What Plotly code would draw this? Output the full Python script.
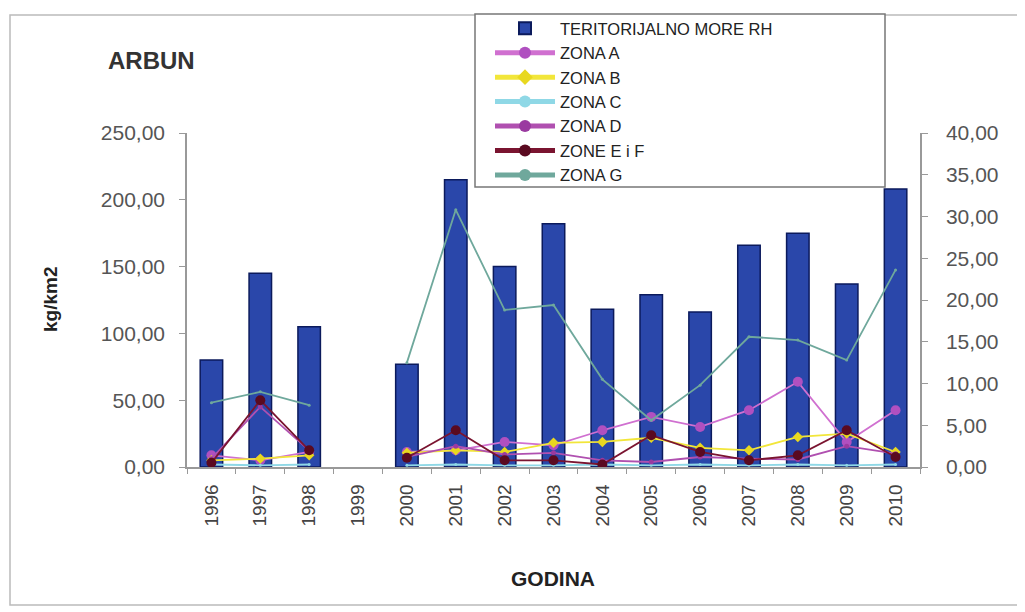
import plotly.graph_objects as go

years = ["1996", "1997", "1998", "1999", "2000", "2001", "2002", "2003",
         "2004", "2005", "2006", "2007", "2008", "2009", "2010"]
teritorijalno_more = [80, 145, 105, None, 77, 215, 150, 182, 118, 129, 116, 166, 175, 137, 208]
zona_a = [1.4, 0.8, 1.8, None, 1.8, 2.0, 3.0, 2.6, 4.4, 6.0, 4.8, 6.8, 10.2, 3.0, 6.8]
zona_b = [0.8, 1.0, 1.4, None, 1.7, 2.0, 1.8, 2.9, 3.0, 3.5, 2.3, 2.0, 3.6, 4.0, 1.8]
zona_c = [0.3, 0.2, 0.3, None, 0.2, 0.3, 0.2, 0.2, 0.3, 0.2, 0.3, 0.2, 0.3, 0.2, 0.3]
zona_d = [1.0, 7.2, 2.0, None, 1.2, 2.5, 1.5, 1.7, 0.8, 0.6, 1.2, 1.0, 0.9, 2.5, 1.6]
zone_e_f = [0.5, 8.0, 2.0, None, 1.1, 4.4, 0.8, 0.8, 0.3, 3.8, 1.8, 0.8, 1.4, 4.4, 1.2]
zona_g = [7.7, 9.0, 7.4, None, 12.5, 30.8, 18.8, 19.4, 10.5, 5.6, 9.8, 15.6, 15.2, 12.8, 23.6]

FONT = "Liberation Sans, Arial, sans-serif"

fig = go.Figure()
fig.add_trace(go.Bar(
    x=years, y=teritorijalno_more, name="TERITORIJALNO MORE RH",
    marker=dict(color="#2a47aa", line=dict(color="#0b1a5c", width=1.5)),
    width=0.46, yaxis="y"))

line_specs = [
    ("ZONA A", zona_a, "#d070d0", "#b050c0", 10, "circle"),
    ("ZONA B", zona_b, "#f2e63a", "#e8d820", 8, "diamond"),
    ("ZONA C", zona_c, "#8fd8e6", "#8fd8e6", 3, "circle"),
    ("ZONA D", zona_d, "#b050b0", "#9a3aa0", 5, "circle"),
    ("ZONE E i F", zone_e_f, "#7a1430", "#5a0a20", 10, "circle"),
    ("ZONA G", zona_g, "#6fa89c", "#6fa89c", 3, "circle"),
]
for name, vals, lc, mc, ms, sym in line_specs:
    fig.add_trace(go.Scatter(
        x=years, y=vals, name=name, mode="lines+markers",
        line=dict(color=lc, width=1.8),
        marker=dict(color=mc, size=ms, symbol=sym),
        connectgaps=False, yaxis="y2"))

# page body adds an 8px offset; margins compensate so the plot area lands at
# x 187..920, y 133..467 in the screenshot
L, R, T, B = 179, 113, 125, 153
PW = 1025 - L - R
PH = 612 - T - B


def px(xs):
    return (xs - 8 - L) / PW


def py(ys):
    return 1 - (ys - 8 - T) / PH


fig.update_layout(
    width=1025, height=612,
    margin=dict(l=L, r=R, t=T, b=B, autoexpand=False),
    paper_bgcolor="white", plot_bgcolor="white",
    separators=", ",
    font=dict(family=FONT, color="#444"),
    showlegend=True,
    legend=dict(x=px(490), y=py(11), xanchor="left", yanchor="top",
                bgcolor="rgba(0,0,0,0)", borderwidth=0,
                font=dict(family=FONT, size=16.5, color="#222"),
                tracegroupgap=0, itemsizing="constant", itemwidth=60,
                traceorder="normal"),
    xaxis=dict(type="category", range=[-0.5, 14.5], tickangle=-90, automargin=False,
               tickfont=dict(size=19, color="#444"), ticklabelstandoff=8,
               showline=True, linecolor="#999", linewidth=1.5,
               ticks="outside", tickson="boundaries", ticklen=5, tickcolor="#999",
               showgrid=False),
    yaxis=dict(range=[0, 250], dtick=50, tickformat=".2f", automargin=False,
               tickfont=dict(size=21, color="#555"), ticklabelstandoff=10,
               showline=True, linecolor="#999", linewidth=1.5,
               ticks="outside", ticklen=6, tickcolor="#999",
               showgrid=False, zeroline=False),
    yaxis2=dict(range=[0, 40], dtick=5, tickformat=".2f", overlaying="y", side="right",
                automargin=False,
                tickfont=dict(size=21, color="#555"), ticklabelstandoff=14,
                showline=True, linecolor="#999", linewidth=1.5,
                ticks="outside", ticklen=6, tickcolor="#999",
                showgrid=False, zeroline=False),
    annotations=[
        dict(text="<b>ARBUN</b>", x=px(106), y=py(60), xref="paper", yref="paper",
             showarrow=False, xanchor="left", yanchor="middle",
             font=dict(size=24, color="#333", family=FONT)),
        dict(text="<b>kg/km2</b>", x=px(50), y=py(300), xref="paper", yref="paper",
             showarrow=False, textangle=-90, xanchor="center", yanchor="middle",
             font=dict(size=19, color="#222", family=FONT)),
        dict(text="<b>GODINA</b>", x=px(553), y=py(578), xref="paper", yref="paper",
             showarrow=False, xanchor="center", yanchor="middle",
             font=dict(size=21, color="#222", family=FONT)),
    ],
    shapes=[
        dict(type="rect", xref="paper", yref="paper",
             x0=px(10), x1=px(1020), y0=py(605), y1=py(15),
             line=dict(color="#bbb", width=1.5), layer="below"),
        dict(type="rect", xref="paper", yref="paper",
             x0=px(475), x1=px(885), y0=py(187), y1=py(14),
             fillcolor="white", line=dict(color="#777", width=1.5), layer="above"),
    ],
)

fig.write_html("out.html")
